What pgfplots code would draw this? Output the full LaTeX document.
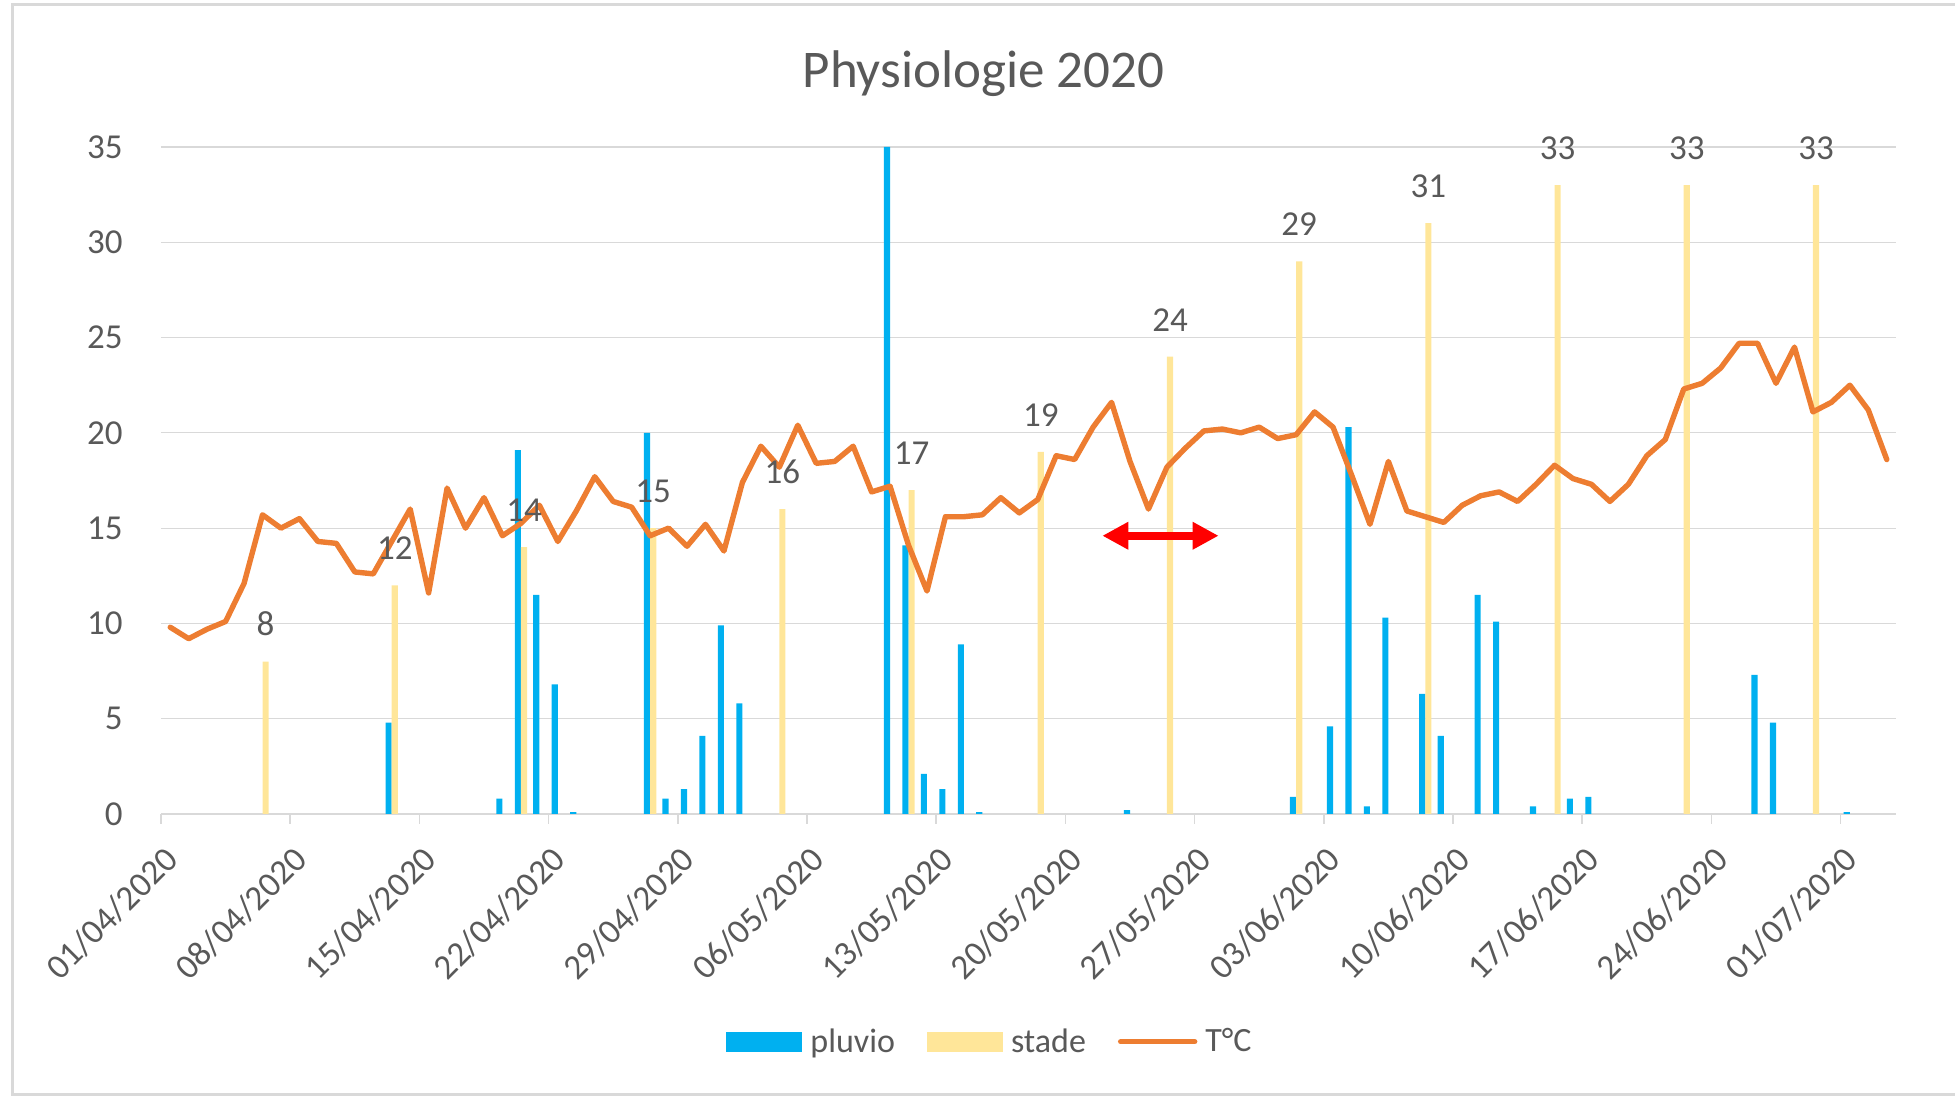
\documentclass[border=0pt]{standalone}
\usepackage{pgfplots}
\pgfplotsset{compat=1.18}
\usepackage{pgfplotstable}
\usepackage{fontspec}
\setmainfont{Carlito}
\usetikzlibrary{arrows.meta}
\definecolor{pluviocol}{HTML}{00B0F0}
\definecolor{stadecol}{HTML}{FFE699}
\definecolor{tempcol}{HTML}{ED7D31}
\definecolor{txtcol}{HTML}{595959}
\definecolor{gridcol}{HTML}{D9D9D9}

\pgfplotstableread{
d T
0 9.8
1 9.2
2 9.7
3 10.1
4 12.1
5 15.7
6 15.0
7 15.5
8 14.3
9 14.2
10 12.7
11 12.6
12 14.3
13 16.0
14 11.6
15 17.1
16 15.0
17 16.6
18 14.6
19 15.25
20 16.2
21 14.3
22 15.9
23 17.7
24 16.4
25 16.1
26 14.6
27 15.0
28 14.05
29 15.2
30 13.8
31 17.4
32 19.3
33 18.2
34 20.4
35 18.4
36 18.5
37 19.3
38 16.9
39 17.2
40 14.1
41 11.7
42 15.6
43 15.6
44 15.7
45 16.6
46 15.8
47 16.5
48 18.8
49 18.6
50 20.3
51 21.6
52 18.5
53 16.0
54 18.2
55 19.2
56 20.1
57 20.2
58 20.0
59 20.3
60 19.7
61 19.9
62 21.1
63 20.3
64 17.8
65 15.2
66 18.5
67 15.9
68 15.6
69 15.3
70 16.2
71 16.7
72 16.9
73 16.4
74 17.3
75 18.3
76 17.6
77 17.3
78 16.4
79 17.3
80 18.8
81 19.65
82 22.3
83 22.6
84 23.4
85 24.7
86 24.7
87 22.6
88 24.5
89 21.1
90 21.6
91 22.5
92 21.2
93 18.6
}\tempdata

\pgfplotstableread{
d P
12 4.8
18 0.8
19 19.1
20 11.5
21 6.8
22 0.1
26 20.0
27 0.8
28 1.3
29 4.1
30 9.9
31 5.8
39 35
40 14.1
41 2.1
42 1.3
43 8.9
44 0.1
52 0.2
61 0.9
63 4.6
64 20.3
65 0.4
66 10.3
68 6.3
69 4.1
71 11.5
72 10.1
74 0.4
76 0.8
77 0.9
86 7.3
87 4.8
91 0.1
}\pluvio

\pgfplotstableread{
d S
5 8
12 12
19 14
26 15
33 16
40 17
47 19
54 24
61 29
68 31
75 33
82 33
89 33
}\stade

\begin{document}
\begin{tikzpicture}
\useasboundingbox (0,0) rectangle (977.5pt,548.5pt);
\draw[gridcol, line width=1.5pt] (6pt,1pt) rectangle (985pt,546pt);
\node[font=\fontsize{26.5}{30}\selectfont, text=txtcol, anchor=base] at (491.75pt,504.5pt) {Physiologie 2020};
\begin{axis}[
  at={(80.5pt,141.5pt)}, anchor=south west,
  scale only axis, width=867.5pt, height=333.5pt,
  xmin=0, xmax=94, ymin=0, ymax=35,
  clip=false,
  xtick={0,7,...,91},
  xticklabels={01/04/2020,08/04/2020,15/04/2020,22/04/2020,29/04/2020,06/05/2020,13/05/2020,20/05/2020,27/05/2020,03/06/2020,10/06/2020,17/06/2020,24/06/2020,01/07/2020},
  ytick={0,5,...,35},
  axis x line*=bottom, axis y line*=left,
  y axis line style={draw=none},
  x axis line style={gridcol, line width=0.8pt},
  ymajorgrids, grid style={gridcol, line width=0.6pt},
  xtick style={gridcol, line width=0.8pt}, ytick style={draw=none},
  tick align=outside, major tick length=5pt,
  /pgf/number format/assume math mode=true,
  yticklabel style={font=\fontsize{17.5}{20}\selectfont, text=txtcol, inner sep=0pt, anchor=east, xshift=-14pt},
  xticklabel style={font=\fontsize{17.5}{20}\selectfont, text=txtcol, inner sep=0pt, rotate=45, anchor=east, xshift=-6.6pt, yshift=-14.3pt},
  legend style={at={(0.4784,-0.3414)}, anchor=center, draw=none, fill=none, legend columns=3,
    font=\fontsize{17}{20}\selectfont, text=txtcol,
    /tikz/every odd column/.append style={column sep=2pt},
    /tikz/every even column/.append style={column sep=14pt}},
]
\addplot[ybar, bar width=0.333, bar shift=-0.1667, fill=pluviocol, draw=none,
  legend image code/.code={\fill[pluviocol] (0pt,-5pt) rectangle (38pt,5pt);}]
  table[x expr=\thisrow{d}+0.5, y=P] {\pluvio};
\addlegendentry{pluvio}
\addplot[ybar, bar width=0.333, bar shift=0.1667, fill=stadecol, draw=none,
  legend image code/.code={\fill[stadecol] (0pt,-5pt) rectangle (38pt,5pt);}]
  table[x expr=\thisrow{d}+0.5, y=S] {\stade};
\addlegendentry{stade}
\addplot[tempcol, line width=2.7pt, line join=round, line cap=round, mark=none,
  legend image code/.code={\draw[tempcol, line width=2.7pt, line cap=round] (0pt,0pt) -- (37pt,0pt);}]
  table[x expr=\thisrow{d}+0.5, y=T] {\tempdata};
\addlegendentry{T°C}
\addplot[draw=none, mark=none, forget plot, nodes near coords,
  nodes near coords style={font=\fontsize{17.5}{20}\selectfont, text=txtcol, anchor=south, inner sep=0pt, yshift=12.5pt}]
  table[x expr=\thisrow{d}+0.6667, y=S] {\stade};
\draw[red, line width=4pt, {Triangle[length=13pt,width=13pt]}-{Triangle[length=13pt,width=13pt]}] (axis cs:51,14.6) -- (axis cs:57.3,14.6);
\end{axis}
\end{tikzpicture}
\end{document}
